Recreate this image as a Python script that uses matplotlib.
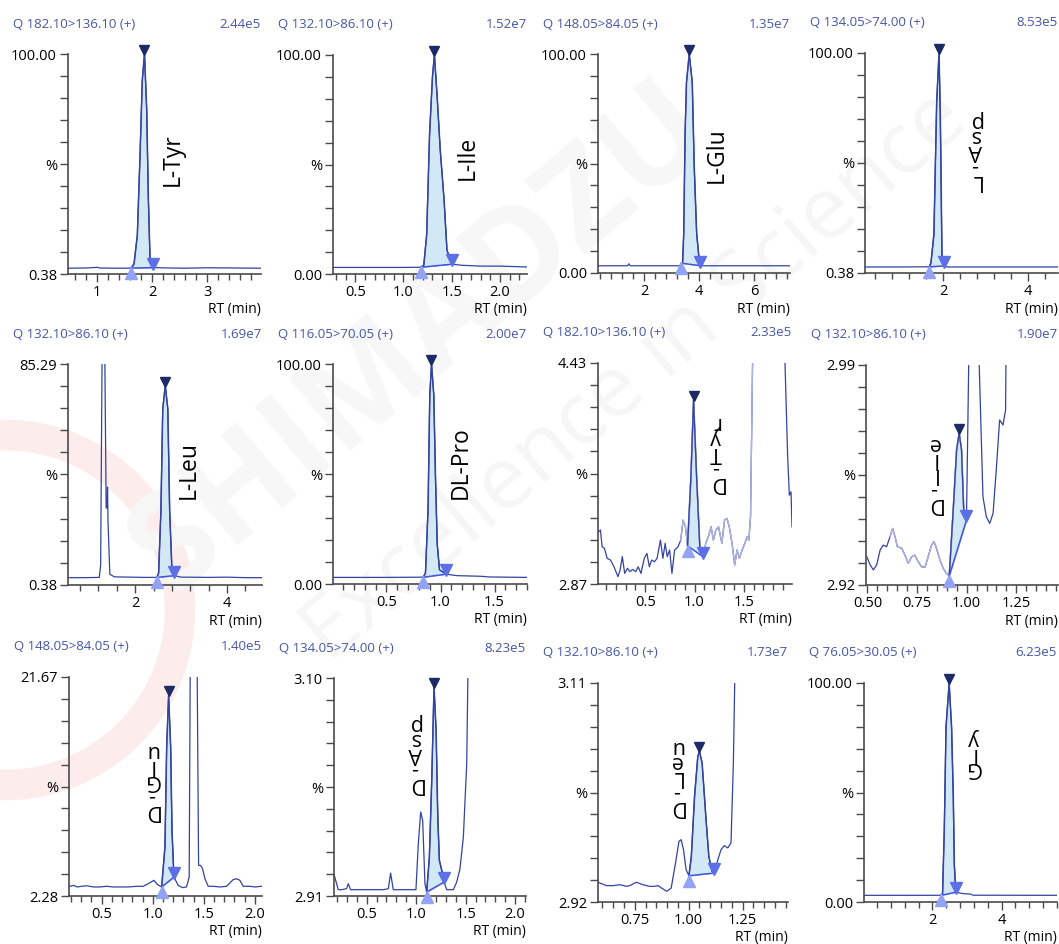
import numpy as np
import matplotlib
matplotlib.use('Agg')
from matplotlib import pyplot as plt
from matplotlib.patches import Ellipse
from matplotlib.ticker import MultipleLocator, FixedLocator, FuncFormatter
from matplotlib.transforms import offset_copy

plt.rcParams['font.family'] = ['Open Sans', 'DejaVu Sans']

# ------------------- DADOS -------------------------

canais = ['Q 182.10>136.10 (+)', 'Q 132.10>86.10 (+)', 'Q 148.05>84.05 (+)', 'Q 134.05>74.00 (+)',
          'Q 132.10>86.10 (+)', 'Q 116.05>70.05 (+)', 'Q 182.10>136.10 (+)', 'Q 132.10>86.10 (+)',
          'Q 148.05>84.05 (+)', 'Q 134.05>74.00 (+)', 'Q 132.10>86.10 (+)', 'Q 76.05>30.05 (+)']
escalas = ['2.44e5', '1.52e7', '1.35e7', '8.53e5',
           '1.69e7', '2.00e7', '2.33e5', '1.90e7',
           '1.40e5', '8.23e5', '1.73e7', '6.23e5']
nomes = ['L-Tyr', 'L-Ile', 'L-Glu', 'L-Asp',
         'L-Leu', 'DL-Pro', 'D-Tyr', 'D-Ile',
         'D-Glu', 'D-Asp', 'D-Leu', 'Gly']
y_min = [0.38, 0.00, 0.00, 0.38, 0.38, 0.00, 2.87, 2.92, 2.28, 2.91, 2.92, 0.00]
y_max = [100.00, 100.00, 100.00, 100.00, 85.29, 100.00, 4.43, 2.99, 21.67, 3.10, 3.11, 100.00]
x_lim = [(0.47, 3.98), (0.27, 2.28), (0.33, 7.3), (0.16, 4.7),
         (0.54, 4.76), (0.005, 1.8), (0.02, 1.99), (0.493, 1.46),
         (0.18, 2.07), (0.17, 2.11), (0.58, 1.46), (0.02, 5.6)]
inicio = [1.62, 1.18, 3.36, 1.67, 2.47, 0.84, 0.929, 0.912, 1.087, 1.106, 1.001, 2.26]
fim = [2.02, 1.50, 4.02, 2.016, 2.85, 1.05, 1.09, 0.999, 1.207, 1.282, 1.119, 2.675]
rotulo_xy = [(2.38, 52), (1.67, 53), (4.63, 54), (2.75, 56),
             (3.16, 44.6), (1.19, 55), (1.216, 3.80), (0.835, 2.9555),
             (0.989, 12.5), (0.988, 3.034), (0.942, 3.029), (3.18, 68)]

tyr_l_rt = [0.47, 0.8, 1.0, 1.05, 1.3, 1.55, 1.62, 1.67, 1.73, 1.78, 1.82, 1.86, 1.90, 1.93, 1.96, 2.02,
            2.3, 2.6, 3.0, 3.5, 3.98]
tyr_l_int = [3.0, 3.1, 3.4, 3.1, 3.0, 3.0, 3.1, 5, 18, 55, 88, 100, 75, 35, 8, 3.3,
             3.1, 3.0, 3.2, 3.1, 3.0]

ile_l_rt = [0.27, 0.6, 1.0, 1.18, 1.21, 1.24, 1.27, 1.30, 1.32, 1.35, 1.38, 1.42, 1.45, 1.50,
            1.6, 1.8, 2.0, 2.28]
ile_l_int = [3.0, 3.0, 3.0, 3.1, 4, 18, 64, 90, 100, 80, 57, 34, 11, 4.5,
             4.0, 3.6, 3.6, 3.2]

glu_l_rt = [0.33, 1.40, 1.45, 1.50, 3.30, 3.36, 3.40, 3.44, 3.49, 3.54, 3.64, 3.75, 3.82, 3.91, 4.02,
            4.1, 7.3]
glu_l_int = [3.3, 3.3, 4.2, 3.3, 3.3, 4.5, 5, 18, 64, 87, 100, 87, 49, 18, 3.4,
             3.3, 3.3]

asp_l_rt = [0.16, 1.0, 1.67, 1.71, 1.78, 1.845, 1.90, 1.93, 1.95, 1.97, 2.016, 2.1, 4.7]
asp_l_int = [3.1, 3.1, 3.2, 5, 18, 78, 100, 72, 40, 6, 3.6, 3.1, 3.1]

leu_l_rt = [0.54, 0.9, 1.22, 1.25, 1.29, 1.33, 1.37, 1.39, 1.40, 1.41, 1.45, 1.55, 1.9, 2.2,
            2.47, 2.51, 2.56, 2.60, 2.655, 2.71, 2.75, 2.80, 2.85, 3.0, 3.6, 4.0, 4.4, 4.76]
leu_l_int = [3.2, 3.2, 3.3, 8, 110, 110, 30, 30, 38, 25, 4.5, 3.5, 3.4, 3.3,
             3.3, 5, 29, 68, 77, 68, 29, 6, 4, 3.4, 3.3, 3.4, 3.2, 3.2]

pro_dl_rt = [0.005, 0.5, 0.84, 0.86, 0.884, 0.90, 0.916, 0.937, 0.953, 0.969, 0.99, 1.05,
             1.15, 1.38, 1.45, 1.8]
pro_dl_int = [3.0, 3.0, 3.1, 5, 34, 86, 100, 86, 48, 18, 6.5, 4.5,
              3.8, 3.5, 3.2, 3.0]

tyr_d_rt = [0.028, 0.045, 0.062, 0.086, 0.113, 0.147, 0.182, 0.223, 0.243, 0.267, 0.291, 0.319, 0.346,
            0.370, 0.404, 0.428, 0.456, 0.490, 0.517, 0.541, 0.565, 0.593, 0.620, 0.654, 0.679, 0.702,
            0.723, 0.747, 0.771, 0.798, 0.833, 0.860, 0.884, 0.908, 0.929, 0.963, 0.990, 1.021, 1.055,
            1.090, 1.114, 1.141, 1.168, 1.192, 1.216, 1.244, 1.278, 1.305, 1.329, 1.353, 1.381, 1.408,
            1.432, 1.456, 1.484, 1.511, 1.535, 1.552, 1.569, 1.593, 1.62, 1.85, 1.912, 1.946, 1.963,
            1.980, 1.99]
tyr_d_int = [3.239, 3.251, 3.133, 3.121, 3.051, 3.039, 2.992, 2.922, 2.964, 3.063, 2.945, 2.980, 2.957,
             2.973, 2.957, 2.992, 2.945, 3.051, 3.086, 2.992, 3.039, 3.027, 3.051, 3.180, 3.051, 3.157,
             3.063, 3.110, 2.945, 3.110, 3.133, 3.180, 3.321, 3.274, 3.140, 3.626, 4.167, 3.626, 3.110,
             3.060, 3.157, 3.204, 3.274, 3.180, 3.251, 3.274, 3.157, 3.321, 3.333, 3.274, 3.157, 3.004,
             3.110, 3.051, 3.110, 3.157, 3.204, 3.180, 3.344, 4.6, 5.0, 5.0, 4.6, 3.767, 3.497,
             3.521, 3.274]

ile_d_rt = [0.497, 0.514, 0.530, 0.547, 0.564, 0.580, 0.597, 0.614, 0.627, 0.639, 0.651, 0.673, 0.689,
            0.706, 0.723, 0.739, 0.756, 0.773, 0.790, 0.806, 0.823, 0.835, 0.848, 0.865, 0.882, 0.898,
            0.912, 0.932, 0.949, 0.962, 0.974, 0.985, 0.999, 1.024, 1.049, 1.061, 1.082, 1.099, 1.116,
            1.133, 1.149, 1.166, 1.183, 1.196, 1.205, 1.25, 1.46]
ile_d_int = [2.9290, 2.9264, 2.9248, 2.9264, 2.9311, 2.9327, 2.9322, 2.9354, 2.9380, 2.9354, 2.9322,
             2.9317, 2.9295, 2.9269, 2.9290, 2.9295, 2.9274, 2.9258, 2.9256, 2.9290, 2.9327, 2.9338,
             2.9317, 2.9280, 2.9253, 2.9237, 2.9229, 2.9439, 2.9630, 2.9683, 2.9630, 2.9439, 2.9407,
             3.05, 3.05, 2.995, 2.9481, 2.9417, 2.9396, 2.9428, 2.9566, 2.9725, 2.9709, 2.9757, 3.05,
             3.05, 3.05]

glu_d_rt = [0.190, 0.222, 0.262, 0.304, 0.353, 0.418, 0.483, 0.549, 0.614, 0.679, 0.761, 0.842, 0.907,
            0.956, 1.012, 1.044, 1.087, 1.119, 1.136, 1.155, 1.175, 1.188, 1.207, 1.250, 1.292, 1.331,
            1.357, 1.371, 1.40, 1.42, 1.429, 1.449, 1.468, 1.488, 1.511, 1.543, 1.592, 1.658, 1.723,
            1.788, 1.821, 1.853, 1.886, 1.951, 2.000, 2.065]
glu_d_int = [3.14, 3.22, 3.08, 3.14, 3.19, 3.08, 3.08, 3.14, 3.08, 3.08, 3.08, 3.14, 3.14,
             3.37, 3.67, 3.31, 3.08, 6.62, 15.47, 20.04, 15.47, 8.09, 3.96, 3.22, 3.02, 3.08,
             3.96, 30, 40, 40, 30, 4.99, 4.99, 4.70, 3.81, 3.14, 3.14, 3.08, 3.14,
             3.73, 3.81, 3.67, 3.14, 3.14, 3.08, 3.14]

asp_d_rt = [0.173, 0.213, 0.247, 0.297, 0.314, 0.338, 0.399, 0.533, 0.668, 0.719, 0.742, 0.769, 0.870,
            0.998, 1.022, 1.046, 1.066, 1.089, 1.106, 1.133, 1.157, 1.180, 1.201, 1.218, 1.234, 1.258,
            1.282, 1.309, 1.376, 1.410, 1.443, 1.477, 1.511, 1.538, 1.6, 2.11]
asp_d_int = [2.928, 2.9155, 2.9155, 2.9164, 2.9207, 2.9155, 2.9155, 2.9155, 2.9155, 2.9164, 2.930, 2.9155,
             2.9155, 2.9155, 2.9556, 2.9832, 2.9759, 2.9207, 2.9135, 2.944, 3.0108, 3.0921, 3.0544,
             2.9788, 2.9411, 2.9324, 2.9222, 2.9155, 2.9155, 2.9222, 2.9338, 2.9614, 3.0253, 3.2,
             3.3, 3.3]

leu_d_rt = [0.581, 0.596, 0.619, 0.650, 0.681, 0.712, 0.727, 0.758, 0.788, 0.819, 0.842, 0.858, 0.881,
            0.899, 0.919, 0.939, 0.955, 0.965, 0.976, 0.988, 1.001, 1.012, 1.027, 1.042, 1.050, 1.062,
            1.078, 1.093, 1.108, 1.119, 1.135, 1.150, 1.165, 1.181, 1.196, 1.207, 1.215, 1.25, 1.46]
leu_d_int = [2.9371, 2.9359, 2.9342, 2.9342, 2.9350, 2.9336, 2.9342, 2.9371, 2.9350, 2.9336, 2.9336,
             2.9342, 2.9313, 2.9293, 2.9321, 2.9538, 2.9726, 2.9741, 2.9654, 2.9481, 2.9428, 2.9596,
             3.0117, 3.0464, 3.0507, 3.0406, 2.9972, 2.9596, 2.9466, 2.9452, 2.9567, 2.9654, 2.9689,
             2.9669, 2.9712, 3.0406, 3.13, 3.2, 3.2]

gly_rt = [0.02, 2.0, 2.26, 2.29, 2.34, 2.39, 2.48, 2.55, 2.60, 2.63, 2.675, 2.9, 3.1, 3.18, 5.6]
gly_int = [3.05, 3.05, 3.1, 4, 33, 80, 100, 80, 48, 17, 4.5, 3.8, 3.6, 3.1, 3.05]

tracos = [(tyr_l_rt, tyr_l_int), (ile_l_rt, ile_l_int), (glu_l_rt, glu_l_int), (asp_l_rt, asp_l_int),
          (leu_l_rt, leu_l_int), (pro_dl_rt, pro_dl_int), (tyr_d_rt, tyr_d_int), (ile_d_rt, ile_d_int),
          (glu_d_rt, glu_d_int), (asp_d_rt, asp_d_int), (leu_d_rt, leu_d_int), (gly_rt, gly_int)]

# ------------------- ESTILO -------------------------

passo_maior = [1, 0.5, 2, 2, 2, 0.5, 0.5, 0.25, 0.5, 0.5, 0.25, 2]
passo_menor = [0.2, 0.1, 0.4, 0.4, 0.4, 0.1, 0.1, 0.05, 0.1, 0.1, 0.05, 0.4]
formato_x = ['%.0f', '%.1f', '%.0f', '%.0f', '%.0f', '%.1f', '%.1f', '%.2f', '%.1f', '%.1f', '%.2f', '%.0f']
empilhado = [False, False, False, True, False, False, True, True, True, True, True, True]
trecho_claro = {6: (0.85, 1.60), 7: (0.60, 1.02)}

# caixas em pixels: esquerda, topo, direita, base
caixas = [(68, 54, 261, 274), (333, 55, 527, 274), (598, 54, 790, 273), (865, 53, 1058, 273),
          (68, 364, 262, 585), (333, 364, 527, 584), (598, 363, 792, 584), (866, 365, 1058, 585),
          (69, 677, 262, 896), (334, 678, 526, 896), (598, 683, 788, 902), (864, 683, 1057, 902)]

W, H = 1059, 944
LINHA = '#3343a0'
CLARO = '#aeb2e0'
AZUL_TXT = '#4556a6'
EIXO = '#4a4a4a'

fig = plt.figure(figsize=(W / 100, H / 100), dpi=100)

# marca d'agua
fig.text(0.40, 0.64, 'SHIMADZU', rotation=40, fontsize=96, fontweight='bold',
         color='#f7f7f7', ha='center', va='center', zorder=-1)
fig.text(0.60, 0.60, 'Excellence in Science', rotation=40, fontsize=62,
         color='#f6f6f6', ha='center', va='center', zorder=-1)
anel = Ellipse((5 / W, 1 - 610 / H), 2 * 175 / W, 2 * 175 / H, transform=fig.transFigure,
               facecolor='none', edgecolor='#fdecec', lw=22, zorder=-1)
fig.add_artist(anel)

for i in range(12):
    e, t, d, b = caixas[i]
    ax = fig.add_axes([e / W, 1 - b / H, (d - e) / W, (b - t) / H])
    ax.patch.set_alpha(0)
    rt = np.array(tracos[i][0])
    inten = np.array(tracos[i][1])

    ax.set_xlim(*x_lim[i])
    ax.set_ylim(y_min[i], y_max[i])

    ax.plot(rt, inten, color=LINHA, lw=0.9)
    if i in trecho_claro:
        a, c = trecho_claro[i]
        m = (rt >= a) & (rt <= c)
        ax.plot(rt[m], inten[m], color=CLARO, lw=1.0)

    # pico integrado
    ys = np.interp(inicio[i], rt, inten)
    ye = np.interp(fim[i], rt, inten)
    m = (rt >= inicio[i] - 1e-9) & (rt <= fim[i] + 1e-9)
    base = ys + (rt[m] - inicio[i]) * (ye - ys) / (fim[i] - inicio[i])
    ax.fill_between(rt[m], inten[m], base, facecolor='#d3e8f5', edgecolor='#8894cc', lw=0.6, zorder=1)
    ax.plot(rt[m], inten[m], color=LINHA, lw=0.9, zorder=2)
    ax.plot([inicio[i], fim[i]], [ys, ye], color='#3a52e6', lw=1.0, zorder=3)

    k = np.argmax(inten[m])
    cima = offset_copy(ax.transData, fig=fig, y=4, units='dots')
    baixo = offset_copy(ax.transData, fig=fig, y=-5, units='dots')
    ax.plot(rt[m][k], inten[m][k], 'v', color='#1c2a66', ms=7, transform=cima, clip_on=False, zorder=5)
    ax.plot(fim[i], ye, 'v', color='#5d6fe6', ms=9, transform=cima, clip_on=False, zorder=5)
    ax.plot(inicio[i], ys, '^', color='#92a2f4', ms=9, transform=baixo, clip_on=False, zorder=5)

    # rotulo do composto
    rx, ry = rotulo_xy[i]
    if empilhado[i]:
        ax.text(rx, ry, '\n'.join(nomes[i]), rotation=180, ha='center', va='center',
                multialignment='center', linespacing=0.62, fontsize=15.5, zorder=6)
    else:
        ax.text(rx, ry, nomes[i], rotation=90, ha='center', va='center', fontsize=16.5, zorder=6)

    # eixos
    for s in ['top', 'right']:
        ax.spines[s].set_visible(False)
    for s in ['left', 'bottom']:
        ax.spines[s].set_color(EIXO)
        ax.spines[s].set_linewidth(1.2)

    yt = np.linspace(y_min[i], y_max[i], 11)
    rot_y = [''] * 11
    rot_y[0] = '%.2f' % y_min[i]
    rot_y[5] = '%'
    rot_y[10] = '%.2f' % y_max[i]
    ax.yaxis.set_major_locator(FixedLocator(yt))
    ax.set_yticklabels(rot_y)

    ax.xaxis.set_major_locator(MultipleLocator(passo_maior[i]))
    ax.xaxis.set_minor_locator(MultipleLocator(passo_menor[i]))
    fmt = formato_x[i]
    ax.xaxis.set_major_formatter(FuncFormatter(lambda v, p, fmt=fmt: fmt % v))
    ax.tick_params(axis='both', which='major', direction='out', color=EIXO, length=6, width=1,
                   labelsize=10.5, pad=2)
    ax.tick_params(axis='x', which='minor', direction='out', color=EIXO, length=4, width=1)

    ax.annotate('RT (min)', xy=(1, 0), xycoords='axes fraction', xytext=(0, -36),
                textcoords='offset pixels', ha='right', va='center', fontsize=10)
    ax.annotate(canais[i], xy=(0, 1), xycoords='axes fraction', xytext=(-55, 30),
                textcoords='offset pixels', ha='left', va='center', fontsize=9.5, color=AZUL_TXT)
    ax.annotate(escalas[i], xy=(1, 1), xycoords='axes fraction', xytext=(0, 30),
                textcoords='offset pixels', ha='right', va='center', fontsize=9.5, color=AZUL_TXT)

plt.savefig('out.png', dpi=100)
